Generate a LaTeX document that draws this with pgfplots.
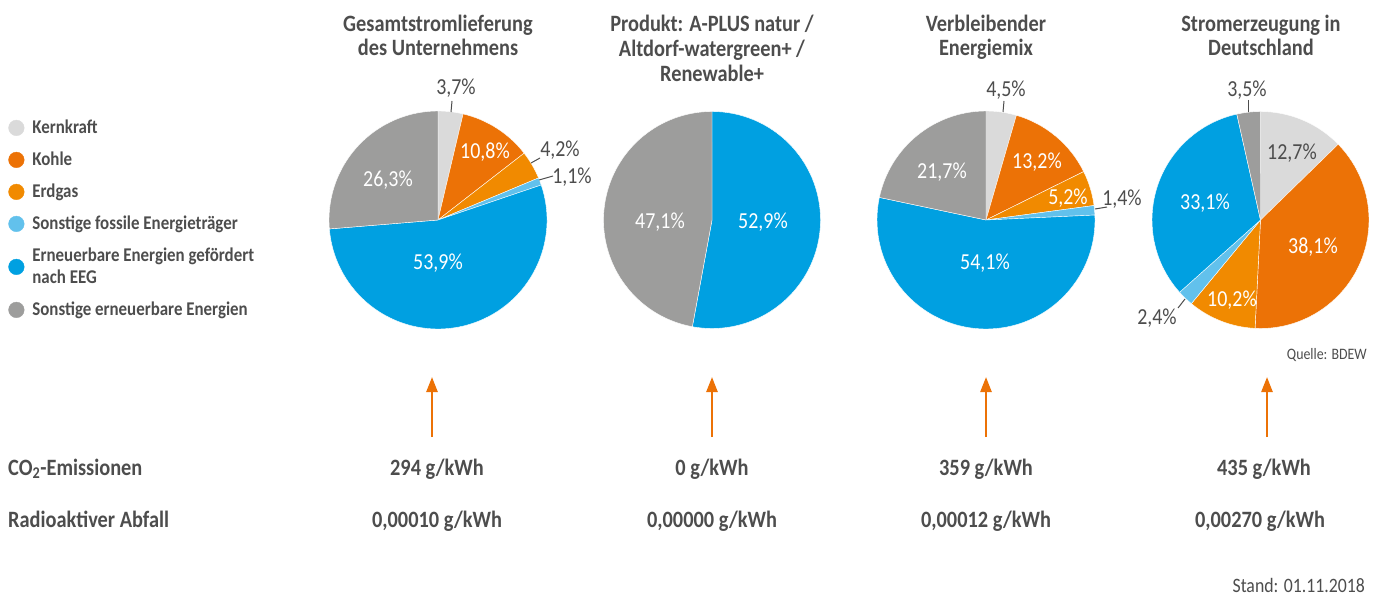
\documentclass[border=0pt]{standalone}
\usepackage{pgfplots}
\pgfplotsset{compat=1.18}
\usepackage{pgfplotstable}
\usetikzlibrary{arrows.meta}
\usepackage{fontspec}
\setmainfont{Carlito}[FakeStretch=0.87]

\definecolor{kern}{HTML}{DADADA}
\definecolor{kohle}{HTML}{EC7206}
\definecolor{erdgas}{HTML}{F18A00}
\definecolor{fossil}{HTML}{62C1EC}
\definecolor{eeg}{HTML}{00A0E1}
\definecolor{sonst}{HTML}{9D9D9C}
\definecolor{txt}{HTML}{4D4D4D}
\definecolor{arr}{HTML}{EC7206}

% shares in percent, clockwise from 12 o'clock
\pgfplotstableread{
share col
3.7 kern
10.8 kohle
4.2 erdgas
1.1 fossil
53.9 eeg
26.3 sonst
}\pieA
\pgfplotstableread{
share col
52.9 eeg
47.1 sonst
}\pieB
\pgfplotstableread{
share col
4.5 kern
13.2 kohle
5.2 erdgas
1.4 fossil
54.1 eeg
21.7 sonst
}\pieC
\pgfplotstableread{
share col
12.7 kern
38.1 kohle
10.2 erdgas
2.4 fossil
33.1 eeg
3.5 sonst
}\pieD

\newcommand\drawpie[4]{%
  \pgfplotstablegetrowsof{#1}%
  \pgfmathtruncatemacro\lastrow{\pgfplotsretval-1}%
  \gdef\pietotal{0}%
  \foreach \i in {0,...,\lastrow}{%
    \pgfplotstablegetelem{\i}{share}\of{#1}%
    \pgfmathsetmacro\tmp{\pietotal+\pgfplotsretval}%
    \xdef\pietotal{\tmp}%
  }%
  \gdef\curang{90}%
  \foreach \i in {0,...,\lastrow}{%
    \pgfplotstablegetelem{\i}{share}\of{#1}%
    \pgfmathsetmacro\endang{\curang-(\pgfplotsretval/\pietotal)*360}%
    \pgfplotstablegetelem{\i}{col}\of{#1}%
    \edef\cl{\pgfplotsretval}%
    \fill[fill=\cl, draw=white, line width=0.4bp, line join=round] (axis cs:#2,#3) -- ++(\curang:#4bp) arc[start angle=\curang, end angle=\endang, radius=#4bp] -- cycle;%
    \xdef\curang{\endang}%
  }%
}

\tikzset{
  lbl/.style={font=\fontsize{23}{26}\selectfont, text=white, inner sep=0pt, anchor=center},
  olbl/.style={lbl, text=txt},
  ttl/.style={font=\fontsize{23.5}{26}\selectfont\bfseries, text=txt, anchor=base, inner sep=0pt},
  lead/.style={draw=txt, line width=1bp},
  up/.style={draw=arr, line width=2.4bp, -{Triangle[width=11bp,length=15bp]}},
}

\begin{document}
\begin{tikzpicture}
\begin{axis}[
  x=1bp, y=1bp, xmin=0, xmax=1386, ymin=0, ymax=597,
  y dir=reverse, hide axis, clip=false,
  legend style={at={(axis cs:8.2,118)}, anchor=north west, draw=none, fill=none,
    inner sep=0pt, row sep=0pt, column sep=8bp,
    font=\fontsize{19.5}{22}\selectfont\bfseries, text=txt,
    nodes={inner sep=0pt, text height=15bp, text depth=17bp}},
  legend cell align=left,
]
\path (rel axis cs:0,0) rectangle (rel axis cs:1,1);

% legend
\addlegendimage{legend image code/.code={\fill[kern] (0bp,6.3bp) circle[radius=7.8bp];}}
\addlegendentry{Kernkraft}
\addlegendimage{legend image code/.code={\fill[kohle] (0bp,6.3bp) circle[radius=7.8bp];}}
\addlegendentry{Kohle}
\addlegendimage{legend image code/.code={\fill[erdgas] (0bp,6.3bp) circle[radius=7.8bp];}}
\addlegendentry{Erdgas}
\addlegendimage{legend image code/.code={\fill[fossil] (0bp,6.3bp) circle[radius=7.8bp];}}
\addlegendentry{Sonstige fossile Energieträger}
\addlegendimage{legend image code/.code={\fill[eeg] (0bp,6.3bp) circle[radius=7.8bp];}}
\addlegendentry[text depth=39bp]{\begin{tabular}[t]{@{}l@{}}Erneuerbare Energien gefördert\\nach EEG\end{tabular}}
\addlegendimage{legend image code/.code={\fill[sonst] (0bp,6.3bp) circle[radius=7.8bp];}}
\addlegendentry{Sonstige erneuerbare Energien}

% pies
\pgfplotsextra{%
  \drawpie{\pieA}{438}{220}{109}%
  \drawpie{\pieB}{712}{220}{108.5}%
  \drawpie{\pieC}{986}{220}{109}%
  \drawpie{\pieD}{1260.5}{220}{108.5}%
}

% titles
\node[ttl] at (axis cs:438,32) {Gesamtstromlieferung};
\node[ttl] at (axis cs:438,56) {des Unternehmens};
\node[ttl] at (axis cs:712,32) {Produkt: A-PLUS natur /};
\node[ttl] at (axis cs:712,57) {Altdorf-watergreen+ /};
\node[ttl] at (axis cs:712,82) {Renewable+};
\node[ttl] at (axis cs:986,32) {Verbleibender};
\node[ttl] at (axis cs:986,56) {Energiemix};
\node[ttl] at (axis cs:1261,32) {Stromerzeugung in};
\node[ttl] at (axis cs:1261,56) {Deutschland};

% pie 1 labels
\node[olbl] at (axis cs:456,88) {3,7\%};
\draw[lead] (axis cs:452,101) -- (axis cs:451,112);
\node[lbl] at (axis cs:485,152) {10,8\%};
\node[olbl] at (axis cs:560,150) {4,2\%};
\draw[lead] (axis cs:531,163) -- (axis cs:540,158);
\node[olbl] at (axis cs:572,177) {1,1\%};
\draw[lead] (axis cs:539,180) -- (axis cs:553,176);
\node[lbl] at (axis cs:388,180) {26,3\%};
\node[lbl] at (axis cs:438,263) {53,9\%};

% pie 2 labels
\node[lbl] at (axis cs:660,222) {47,1\%};
\node[lbl] at (axis cs:763,222) {52,9\%};

% pie 3 labels
\node[olbl] at (axis cs:1006,90) {4,5\%};
\draw[lead] (axis cs:1004,101) -- (axis cs:1003,112);
\node[lbl] at (axis cs:1037,162) {13,2\%};
\node[lbl] at (axis cs:1068,198) {5,2\%};
\node[olbl] at (axis cs:1122,199) {1,4\%};
\draw[lead] (axis cs:1095,209) -- (axis cs:1107,207);
\node[lbl] at (axis cs:942,172) {21,7\%};
\node[lbl] at (axis cs:985,263) {54,1\%};

% pie 4 labels
\node[olbl] at (axis cs:1247,90) {3,5\%};
\draw[lead] (axis cs:1248,100) -- (axis cs:1248,112);
\node[olbl] at (axis cs:1292,153) {12,7\%};
\node[lbl] at (axis cs:1313,247) {38,1\%};
\node[lbl] at (axis cs:1232,300) {10,2\%};
\node[olbl] at (axis cs:1157,318) {2,4\%};
\draw[lead] (axis cs:1178,308) -- (axis cs:1185,299);
\node[lbl] at (axis cs:1205,203) {33,1\%};

\node[font=\fontsize{16}{18}\selectfont, text=txt, anchor=east, inner sep=0pt] at (axis cs:1367,355) {Quelle: BDEW};

% arrows
\draw[up] (axis cs:432,437) -- (axis cs:432,377);
\draw[up] (axis cs:712,437) -- (axis cs:712,377);
\draw[up] (axis cs:986,437) -- (axis cs:986,377);
\draw[up] (axis cs:1267,437) -- (axis cs:1267,377);

% bottom rows
\node[ttl, anchor=base west] at (axis cs:8,475) {CO\textsubscript{2}-Emissionen};
\node[ttl, anchor=base west] at (axis cs:8,527) {Radioaktiver Abfall};
\node[ttl] at (axis cs:437,475) {294 g/kWh};
\node[ttl] at (axis cs:712,475) {0 g/kWh};
\node[ttl] at (axis cs:986,475) {359 g/kWh};
\node[ttl] at (axis cs:1264,475) {435 g/kWh};
\node[ttl] at (axis cs:437,527) {0,00010 g/kWh};
\node[ttl] at (axis cs:712,527) {0,00000 g/kWh};
\node[ttl] at (axis cs:986,527) {0,00012 g/kWh};
\node[ttl] at (axis cs:1260,527) {0,00270 g/kWh};

\node[font=\fontsize{20.5}{22}\selectfont, text=txt, anchor=east, inner sep=0pt] at (axis cs:1365,585) {Stand: 01.11.2018};
\end{axis}
\end{tikzpicture}
\end{document}
